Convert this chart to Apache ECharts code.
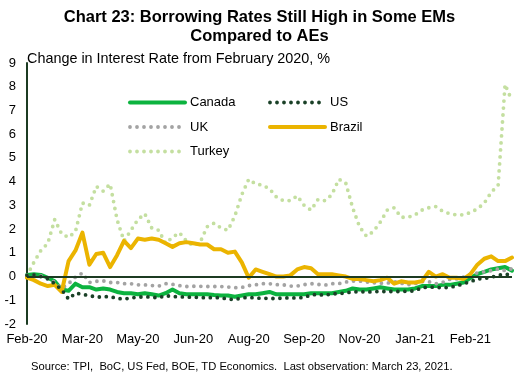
<!DOCTYPE html>
<html>
<head>
<meta charset="utf-8">
<script src="https://cdn.jsdelivr.net/npm/echarts@6/dist/echarts.min.js"></script>
<style>
  html, body { margin: 0; padding: 0; background: #fff; }
  #chart-container { width: 519px; height: 385px; }
</style>
</head>
<body>
<div id="chart-container"></div>
<script>
// x labels, one every 8 points (points are ~4 business days apart)
var tickLabels = ['Feb-20', 'Mar-20', 'May-20', 'Jun-20', 'Aug-20', 'Sep-20', 'Nov-20', 'Jan-21', 'Feb-21'];
var pointsPerTick = 8;
var nPoints = 71;

// change in rate from Feb 2020, %
var canada = [0.07, 0.1, 0.07, -0.05, -0.2, -0.55, -0.6, -0.3, -0.45, -0.45,
  -0.55, -0.5, -0.55, -0.65, -0.7, -0.7, -0.75, -0.7, -0.75, -0.8,
  -0.7, -0.55, -0.7, -0.75, -0.75, -0.75, -0.75, -0.78, -0.8, -0.8,
  -0.85, -0.8, -0.75, -0.75, -0.7, -0.65, -0.75, -0.75, -0.75, -0.75,
  -0.75, -0.7, -0.7, -0.7, -0.7, -0.65, -0.6, -0.5, -0.55, -0.55,
  -0.5, -0.45, -0.5, -0.55, -0.55, -0.55, -0.5, -0.4, -0.4, -0.4,
  -0.35, -0.35, -0.3, -0.25, -0.05, 0.1, 0.2, 0.3, 0.35, 0.4, 0.25];

var us = [0.05, 0.07, 0.0, -0.1, -0.3, -0.55, -0.95, -0.7, -0.75, -0.8,
  -0.87, -0.85, -0.85, -0.92, -0.95, -0.9, -0.87, -0.85, -0.87, -0.9,
  -0.8, -0.85, -0.85, -0.87, -0.87, -0.88, -0.9, -0.88, -0.9, -0.95,
  -0.97, -0.9, -0.88, -0.9, -0.92, -0.92, -0.93, -0.9, -0.9, -0.9,
  -0.88, -0.78, -0.75, -0.8, -0.72, -0.73, -0.68, -0.66, -0.63, -0.66,
  -0.64, -0.63, -0.63, -0.63, -0.63, -0.62, -0.6, -0.47, -0.45, -0.45,
  -0.48, -0.45, -0.4, -0.3, -0.22, -0.1, -0.08, -0.03, 0.05, 0.1, 0.07];

var uk = [0.05, 0.05, 0.03, -0.05, -0.25, -0.5, -0.3, -0.02, 0.15, -0.25,
  -0.2, -0.18, -0.25, -0.25, -0.3, -0.3, -0.35, -0.35, -0.38, -0.4,
  -0.3, -0.33, -0.38, -0.42, -0.41, -0.41, -0.42, -0.42, -0.42, -0.44,
  -0.47, -0.46, -0.38, -0.35, -0.3, -0.3, -0.34, -0.35, -0.4, -0.4,
  -0.34, -0.3, -0.33, -0.36, -0.3, -0.3, -0.23, -0.19, -0.19, -0.23,
  -0.26, -0.28, -0.28, -0.22, -0.28, -0.34, -0.3, -0.21, -0.22, -0.3,
  -0.24, -0.12, -0.1, -0.02, 0.1, 0.15, 0.2, 0.25, 0.32, 0.25, 0.33];

var brazil = [-0.05, -0.15, -0.3, -0.4, -0.35, -0.65, 0.65, 1.1, 1.85, 0.5,
  0.95, 1.0, 0.4, 0.9, 1.5, 1.2, 1.6, 1.55, 1.6, 1.55,
  1.4, 1.25, 1.4, 1.45, 1.4, 1.35, 1.35, 1.15, 1.15, 1.0,
  1.05, 0.6, -0.05, 0.3, 0.2, 0.1, 0.0, 0.0, 0.05, 0.3,
  0.4, 0.35, 0.1, 0.1, 0.1, 0.05, 0.0, -0.1, -0.1, -0.15,
  -0.2, -0.15, -0.05, -0.3, -0.2, -0.25, -0.25, -0.2, 0.2, 0.0,
  0.1, -0.05, -0.05, -0.1, 0.1, 0.5, 0.75, 0.85, 0.65, 0.65, 0.8];

var turkey = [0.05, 0.6, 1.1, 1.4, 2.4, 1.8, 1.65, 1.9, 3.1, 3.0,
  3.8, 3.6, 3.9, 2.4, 1.5, 1.95, 2.4, 2.65, 2.05, 1.95,
  1.4, 1.65, 1.85, 1.5, 1.3, 1.45, 2.1, 2.25, 2.05, 1.95,
  2.55, 3.45, 4.1, 3.9, 3.85, 3.7, 3.35, 3.2, 3.2, 3.4,
  3.0, 2.8, 3.25, 3.2, 3.45, 4.1, 3.95, 2.9, 2.1, 1.7,
  1.9, 2.3, 2.8, 2.9, 2.5, 2.5, 2.6, 2.8, 2.9, 2.95,
  2.75, 2.65, 2.6, 2.6, 2.7, 2.85, 3.1, 3.55, 3.85, 8.1, 7.4];

var yTicks = { min: -2, max: 9, step: 1 };

var xCats = [];
for (var i = 0; i < nPoints; i++) {
  xCats.push(i % pointsPerTick === 0 && tickLabels[i / pointsPerTick] ? tickLabels[i / pointsPerTick] : '');
}

var fontFam = 'Liberation Sans, Arial, sans-serif';
var dots = [0, 7];

var dom = document.getElementById('chart-container');
var myChart = echarts.init(dom, null, { renderer: 'canvas' });

function solid(name, data, color) {
  return {
    name: name, type: 'line', data: data, symbol: 'none', animation: false,
    itemStyle: { color: color },
    lineStyle: { color: color, width: 4, cap: 'round', join: 'round' }
  };
}
function dotted(name, data, color) {
  return {
    name: name, type: 'line', data: data, symbol: 'none', animation: false,
    itemStyle: { color: color },
    lineStyle: { color: color, width: 3.8, type: dots, cap: 'round' }
  };
}

var seriesList = [
  dotted('Turkey', turkey, '#c4dfa0'),
  solid('Canada', canada, '#0cb33f'),
  dotted('UK', uk, '#a3a3a3'),
  solid('Brazil', brazil, '#ebb400'),
  dotted('US', us, '#1a4027')
];
// zero line
seriesList[1].markLine = {
  silent: true, symbol: 'none', animation: false,
  label: { show: false },
  lineStyle: { color: '#1c3b22', width: 2, type: 'solid' },
  data: [{ yAxis: 0 }]
};

var legendBase = {
  orient: 'vertical', itemWidth: 55, itemHeight: 14, itemGap: 11.5,
  textStyle: { fontSize: 13, color: '#000', fontFamily: fontFam },
  itemStyle: { opacity: 0 },
  lineStyle: { width: 'inherit' },
  selectedMode: false
};

var option = {
  backgroundColor: '#fff',
  animation: false,
  title: [
    {
      text: 'Chart 23: Borrowing Rates Still High in Some EMs\nCompared to AEs',
      left: 'center', top: 3,
      textStyle: { fontSize: 16.5, fontWeight: 'bold', color: '#000', fontFamily: fontFam, lineHeight: 19, align: 'center' }
    },
    {
      text: 'Change in Interest Rate from February 2020, %',
      left: 22, top: 47,
      textStyle: { fontSize: 14.4, fontWeight: 'normal', color: '#000', fontFamily: fontFam }
    },
    {
      text: 'Source: TPI,  BoC, US Fed, BOE, TD Economics.  Last observation: March 23, 2021.',
      left: 26, top: 356,
      textStyle: { fontSize: 11.2, fontWeight: 'normal', color: '#000', fontFamily: fontFam }
    }
  ],
  legend: [
    Object.assign({}, legendBase, { left: 123, top: 91, data: ['Canada', 'UK', 'Turkey'] }),
    Object.assign({}, legendBase, { left: 263, top: 91, data: ['US', 'Brazil'] })
  ],
  grid: { left: 27, right: 7, top: 63, bottom: 61, containLabel: false },
  xAxis: {
    type: 'category',
    data: xCats,
    boundaryGap: false,
    axisLine: { show: false },
    axisTick: { show: false },
    axisLabel: { interval: 0, margin: 9, fontSize: 13, color: '#000', fontFamily: fontFam },
    splitLine: { show: false }
  },
  yAxis: {
    type: 'value',
    min: yTicks.min, max: yTicks.max, interval: yTicks.step,
    axisLine: { show: true, lineStyle: { color: '#1c3b22', width: 2 } },
    axisTick: { show: false },
    axisLabel: { margin: 11, fontSize: 13, color: '#000', fontFamily: fontFam },
    splitLine: { show: false }
  },
  series: seriesList
};

myChart.setOption(option);
window.addEventListener('resize', myChart.resize);
</script>
</body>
</html>
